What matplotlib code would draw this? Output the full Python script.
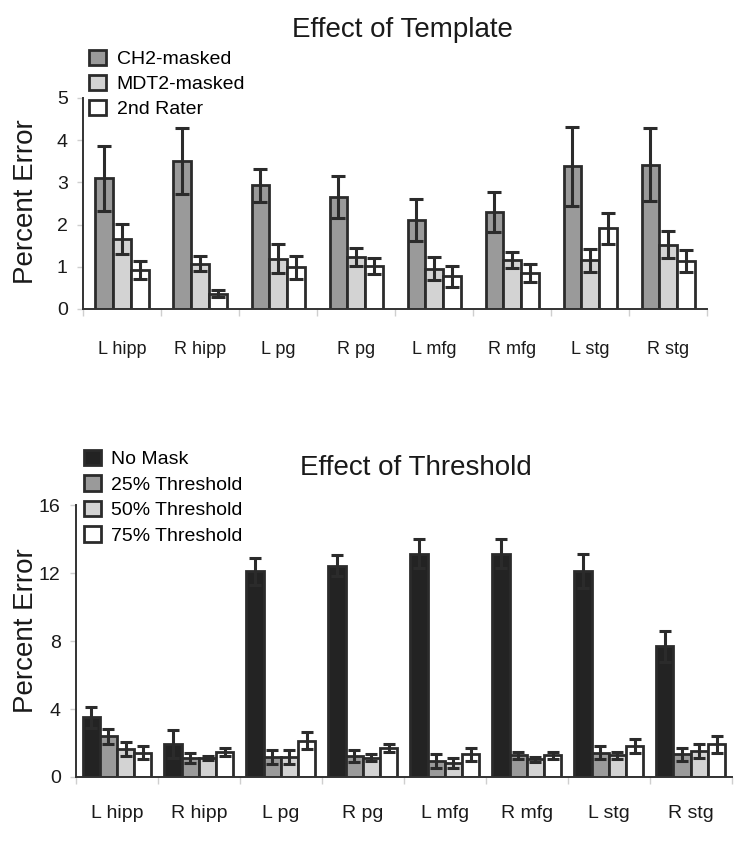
import numpy as np
import matplotlib
matplotlib.use("Agg")
import matplotlib.pyplot as plt

plt.rcParams["font.family"] = ["Liberation Sans", "DejaVu Sans"]

regions = ["L hipp", "R hipp", "L pg", "R pg", "L mfg", "R mfg", "L stg", "R stg"]

# Effect of Template (percent error, mean and error bar half-length)
template_names = ["CH2-masked", "MDT2-masked", "2nd Rater"]
ch2_mean = [3.10, 3.50, 2.93, 2.65, 2.11, 2.29, 3.38, 3.42]
ch2_err = [0.77, 0.78, 0.39, 0.50, 0.50, 0.47, 0.94, 0.86]
mdt2_mean = [1.66, 1.07, 1.19, 1.23, 0.95, 1.16, 1.15, 1.52]
mdt2_err = [0.35, 0.18, 0.35, 0.21, 0.27, 0.20, 0.27, 0.32]
rater_mean = [0.92, 0.36, 0.99, 1.01, 0.77, 0.85, 1.91, 1.13]
rater_err = [0.21, 0.08, 0.27, 0.19, 0.25, 0.22, 0.37, 0.26]

# Effect of Threshold
threshold_names = ["No Mask", "25% Threshold", "50% Threshold", "75% Threshold"]
nomask_mean = [3.52, 1.94, 12.10, 12.44, 13.15, 13.15, 12.12, 7.70]
nomask_err = [0.61, 0.83, 0.77, 0.61, 0.85, 0.85, 0.99, 0.91]
t25_mean = [2.40, 1.13, 1.17, 1.23, 0.93, 1.27, 1.43, 1.33]
t25_err = [0.45, 0.30, 0.40, 0.33, 0.40, 0.20, 0.40, 0.40]
t50_mean = [1.66, 1.13, 1.17, 1.13, 0.83, 1.03, 1.27, 1.52]
t50_err = [0.40, 0.12, 0.40, 0.20, 0.30, 0.12, 0.20, 0.40]
t75_mean = [1.43, 1.49, 2.12, 1.72, 1.33, 1.27, 1.82, 1.92]
t75_err = [0.39, 0.23, 0.50, 0.24, 0.40, 0.20, 0.40, 0.50]

EDGE = "#2b2b2b"
DARK_GREY = "#9a9a9a"
LIGHT_GREY = "#d3d3d3"


def grouped_bars(ax, means, errs, colors, labels, width, capsize):
    n = len(means)
    centers = np.arange(len(regions)) + 0.5
    handles = []
    for i, (m, e, c, lab) in enumerate(zip(means, errs, colors, labels)):
        x = centers + (i - (n - 1) / 2) * width
        b = ax.bar(x, m, width=width, color=c, edgecolor=EDGE, linewidth=2,
                   label=lab, zorder=2)
        ax.errorbar(x, m, yerr=e, fmt="none", ecolor=EDGE, elinewidth=2.2,
                    capsize=capsize, capthick=2.2, zorder=3)
        handles.append(b)
    return centers, handles


def style_axis(ax, centers, ymax, yticks, xpad, xsize):
    ax.set_xlim(0, len(regions))
    ax.set_ylim(0, ymax)
    ax.set_yticks(yticks)
    ax.set_xticks(centers)
    ax.set_xticklabels(regions)
    ax.set_xticks(np.arange(len(regions) + 1), minor=True)
    ax.tick_params(axis="x", which="major", length=0, pad=xpad,
                   labelsize=xsize, labelcolor="#1a1a1a")
    ax.tick_params(axis="x", which="minor", length=5, color="#cfcfcf",
                   width=1)
    ax.tick_params(axis="y", length=4, color="#cfcfcf", width=1, pad=7,
                   labelsize=14, labelcolor="#1a1a1a")
    for side in ("top", "right"):
        ax.spines[side].set_visible(False)
    for side in ("left", "bottom"):
        ax.spines[side].set_color("#333333")
        ax.spines[side].set_linewidth(1.4)
    ax.set_ylabel("Percent Error", fontsize=20, color="#1a1a1a")


fig = plt.figure(figsize=(7.52, 8.44), dpi=100)

# ── top: template ───────────────────────────────────────────────
ax1 = fig.add_axes([0.1104, 0.634, 0.830, 0.250])
c1, h1 = grouped_bars(ax1, [ch2_mean, mdt2_mean, rater_mean],
                      [ch2_err, mdt2_err, rater_err],
                      [DARK_GREY, LIGHT_GREY, "white"], template_names,
                      width=0.227, capsize=5)
style_axis(ax1, c1, 5, [0, 1, 2, 3, 4, 5], xpad=23, xsize=13)
ax1.yaxis.set_label_coords(-0.0705, 0.507)
fig.text(0.535, 0.964, "Effect of Template", ha="center", va="center",
         fontsize=20, color="#1a1a1a")
ax1.legend(handles=h1, loc="upper left", bbox_to_anchor=(0.119, 0.941),
           bbox_transform=fig.transFigure, frameon=False, fontsize=14,
           handlelength=0.85, handleheight=0.85, handletextpad=0.55,
           labelspacing=0.34, borderaxespad=0, borderpad=0)

# ── bottom: threshold ───────────────────────────────────────────
ax2 = fig.add_axes([0.101, 0.0794, 0.872, 0.322])
c2, h2 = grouped_bars(ax2, [nomask_mean, t25_mean, t50_mean, t75_mean],
                      [nomask_err, t25_err, t50_err, t75_err],
                      ["#232323", DARK_GREY, LIGHT_GREY, "white"],
                      threshold_names, width=0.21, capsize=4)
style_axis(ax2, c2, 16, [0, 4, 8, 12, 16], xpad=20, xsize=14)
ax2.yaxis.set_label_coords(-0.0564, 0.537)
fig.text(0.553, 0.446, "Effect of Threshold", ha="center", va="center",
         fontsize=20, color="#1a1a1a")
ax2.legend(handles=h2, loc="upper left", bbox_to_anchor=(0.112, 0.467),
           bbox_transform=fig.transFigure, frameon=False, fontsize=14,
           handlelength=0.85, handleheight=0.85, handletextpad=0.55,
           labelspacing=0.36, borderaxespad=0, borderpad=0)

fig.savefig("out.png", dpi=100)
